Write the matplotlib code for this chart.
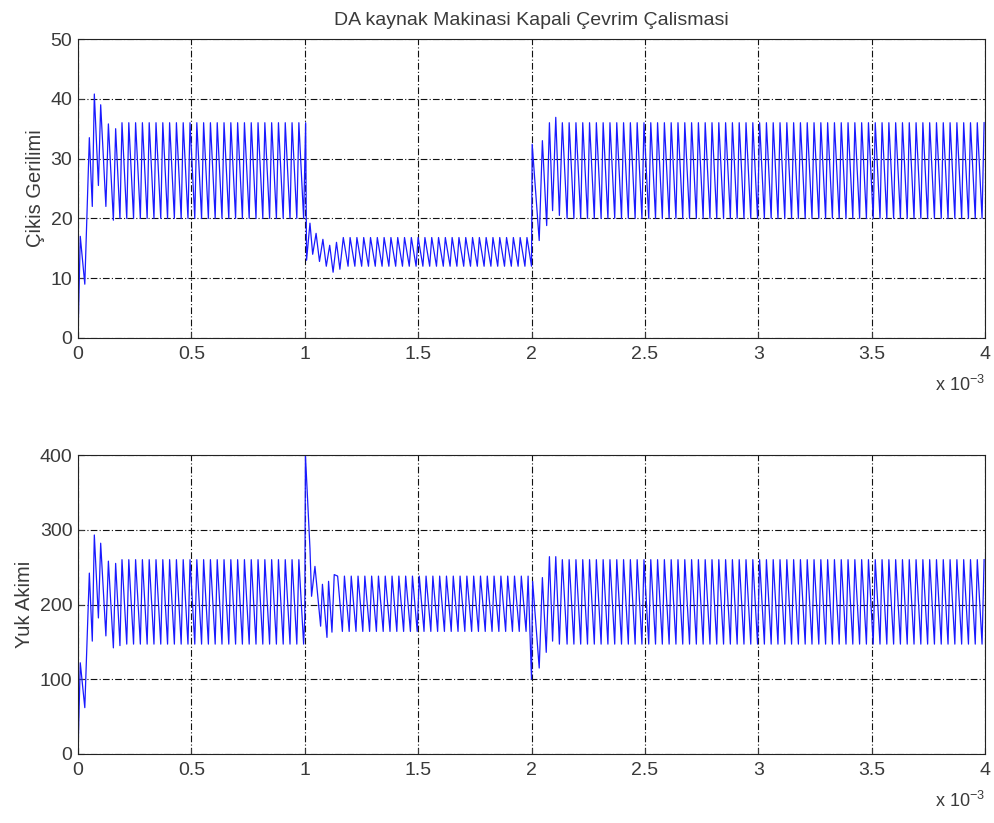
import matplotlib
matplotlib.use("Agg")
import matplotlib.pyplot as plt
import numpy as np

# time values in ms (plotted against a x1e-3 s axis)
title = "DA kaynak Makinasi Kapali Çevrim Çalismasi"
ylabels = ["Çikis Gerilimi", "Yuk Akimi"]
xticks = [0, 0.5, 1, 1.5, 2, 2.5, 3, 3.5, 4]
xtick_labels = ["0", "0.5", "1", "1.5", "2", "2.5", "3", "3.5", "4"]
yticks_v = [0, 10, 20, 30, 40, 50]
yticks_i = [0, 100, 200, 300, 400]

period = 0.03  # switching period, ms
rise = 0.3     # fraction of the period spent rising

# transient vertices (t, value)
v_start_t = [0.0, 0.01, 0.03, 0.05, 0.063, 0.072, 0.09, 0.10, 0.123, 0.134, 0.156, 0.166, 0.185]
v_start_y = [0.0, 17, 9, 33.5, 22, 40.8, 25.5, 39, 22, 35.8, 19.7, 35, 20]
v_step1_t = [1.004, 1.008, 1.023, 1.035, 1.05, 1.065, 1.08, 1.095, 1.11, 1.125, 1.14, 1.155]
v_step1_y = [36, 13, 19.2, 14, 17.5, 12.8, 16.5, 12, 15.5, 11, 16, 11.5]
v_step2_t = [2.0, 2.003, 2.034, 2.048, 2.067, 2.079, 2.093, 2.107, 2.123]
v_step2_y = [12, 32.4, 16.3, 33, 18.8, 36, 21.3, 36.9, 20.5]

i_start_t = v_start_t
i_start_y = [0.0, 122, 62, 242, 151, 293, 182, 282, 158, 258, 142, 255, 145]
i_step1_t = [1.0, 1.003, 1.023, 1.03, 1.045, 1.07, 1.078, 1.098, 1.105, 1.12, 1.13]
i_step1_y = [182, 400, 275, 211, 251, 171, 227, 156, 231, 163, 240]
i_step2_t = [2.0, 2.005, 2.034, 2.048, 2.065, 2.079, 2.093, 2.107, 2.123]
i_step2_y = [100, 231, 115, 236, 136, 264, 151, 264, 147]

# steady levels per segment (start, end, peak, trough)
v_steady = [(0.194, 1.0, 36, 20), (1.17, 2.0, 16.8, 12), (2.136, 4.0, 36, 20)]
i_steady = [(0.194, 1.0, 260, 147), (1.145, 2.0, 238, 164), (2.136, 4.0, 260, 147)]


def steady_vertices(t0, t1, peak, trough):
    t, y = [], []
    k = 0
    while t0 + k * period < t1:
        tp = t0 + k * period
        t += [tp, tp + (1 - rise) * period]
        y += [peak, trough]
        k += 1
    return t, y


def build(parts, steady):
    (st, sy), (s1t, s1y), (s2t, s2y) = parts
    t, y = list(st), list(sy)
    for (a, b, p, q), (nt, ny) in zip(steady, [(s1t, s1y), (s2t, s2y), ([], [])]):
        ct, cy = steady_vertices(a, b, p, q)
        ct = [c for c in ct if c < (nt[0] if nt else 4.0)]
        t += ct
        y += cy[:len(ct)]
        t += list(nt)
        y += list(ny)
    return np.array(t), np.array(y)


tv, yv = build([(v_start_t, v_start_y), (v_step1_t, v_step1_y), (v_step2_t, v_step2_y)], v_steady)
ti, yi = build([(i_start_t, i_start_y), (i_step1_t, i_step1_y), (i_step2_t, i_step2_y)], i_steady)

plt.rcParams['font.family'] = ['Liberation Sans', 'DejaVu Sans']
plt.rcParams['mathtext.fontset'] = 'custom'
plt.rcParams['mathtext.rm'] = 'Liberation Sans'
txt_color = '#3a3a3a'

fig = plt.figure(figsize=(9.95, 8.23), dpi=100)
ax1 = fig.add_axes([78 / 995, 1 - 338 / 823, 907 / 995, 299 / 823])
ax2 = fig.add_axes([78 / 995, 1 - 754 / 823, 907 / 995, 299 / 823])

for ax, t, y, yt, lab, top in [(ax1, tv, yv, yticks_v, ylabels[0], 50),
                                (ax2, ti, yi, yticks_i, ylabels[1], 400)]:
    ax.plot(t, y, color='#1a1aff', lw=0.9)
    ax.set_xlim(0, 4)
    ax.set_ylim(0, top)
    ax.set_xticks(xticks)
    ax.set_xticklabels(xtick_labels)
    ax.set_yticks(yt)
    ax.grid(True, color='#111111', linestyle=(0, (6, 2, 1, 2)), linewidth=0.8)
    ax.tick_params(direction='in', labelsize=14, length=4, colors=txt_color)
    ax.tick_params(axis='x', pad=6)
    ax.tick_params(axis='y', pad=4)
    ax.set_ylabel(lab, fontsize=14.5, labelpad=4, color=txt_color)
    ax.text(1.0, -0.125, r"x 10$^{\mathrm{-3}}$", transform=ax.transAxes, ha='right',
            va='top', fontsize=13, color=txt_color)
    for s in ax.spines.values():
        s.set_linewidth(0.8)
        s.set_color('#222222')

ax1.set_title(title, fontsize=14, pad=10, color=txt_color)

fig.savefig("out.png", dpi=100)
